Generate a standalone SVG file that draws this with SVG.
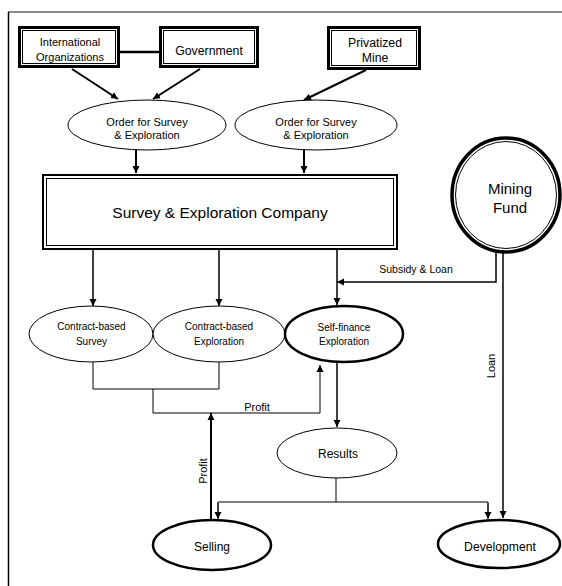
<svg xmlns="http://www.w3.org/2000/svg" width="562" height="586" viewBox="0 0 562 586">
<style>
text{font-family:"Liberation Sans",Arial,sans-serif;fill:#000;text-anchor:middle}
.ol{fill:#fff;stroke:#000;stroke-width:3}
.il{fill:none;stroke:#000;stroke-width:1}
.el{fill:#fff;stroke:#000;stroke-width:1}
.tk{fill:#fff;stroke:#000;stroke-width:2.5}
.c{fill:none;stroke:#000}
</style>
<defs>
<marker id="ah" markerWidth="8" markerHeight="8" refX="7" refY="4" orient="auto" markerUnits="userSpaceOnUse">
<path d="M0,0.5 L7,4 L0,7.5 Z" fill="#000"/>
</marker>
</defs>
<g id="frame">
<line x1="8" y1="12" x2="562" y2="12" stroke="#666" stroke-width="1.5"/>
<line x1="8.5" y1="12" x2="8.5" y2="586" stroke="#000" stroke-width="1.5"/>
</g>
<g id="connectors">
<line class="c" x1="120" y1="52" x2="159" y2="52" stroke-width="2.5"/>
<line class="c" x1="72" y1="69" x2="118" y2="99" stroke-width="2" marker-end="url(#ah)"/>
<line class="c" x1="200" y1="69" x2="153" y2="99" stroke-width="2" marker-end="url(#ah)"/>
<line class="c" x1="366" y1="70" x2="304" y2="100" stroke-width="2" marker-end="url(#ah)"/>
<line class="c" x1="136" y1="150" x2="136" y2="173" stroke-width="2" marker-end="url(#ah)"/>
<line class="c" x1="304" y1="150" x2="304" y2="173" stroke-width="2" marker-end="url(#ah)"/>
<line class="c" x1="93" y1="250" x2="93" y2="306" stroke-width="1.5" marker-end="url(#ah)"/>
<line class="c" x1="219" y1="250" x2="219" y2="306" stroke-width="1.5" marker-end="url(#ah)"/>
<line class="c" x1="337" y1="250" x2="337" y2="305" stroke-width="1.5" marker-end="url(#ah)"/>
<polyline class="c" points="496,253 496,282 337,282" stroke-width="1.5" marker-end="url(#ah)"/>
<line class="c" x1="503" y1="253" x2="503" y2="518" stroke-width="1.5" marker-end="url(#ah)"/>
<polyline class="c" points="93,362 93,389 219,389 219,362" stroke="#333" stroke-width="1"/>
<polyline class="c" points="153,389 153,413 320,413 320,365" stroke="#333" stroke-width="1" marker-end="url(#ah)"/>
<line class="c" x1="211" y1="519" x2="211" y2="413" stroke-width="2" marker-end="url(#ah)"/>
<line class="c" x1="337" y1="362" x2="337" y2="427" stroke-width="1.5" marker-end="url(#ah)"/>
<line class="c" x1="336" y1="478" x2="336" y2="502" stroke="#333" stroke-width="1"/>
<polyline class="c" points="218,518 218,502 488,502 488,518" stroke="#333" stroke-width="1"/>
<line class="c" x1="218" y1="503" x2="218" y2="519" stroke-width="1" marker-end="url(#ah)"/>
<line class="c" x1="488" y1="503" x2="488" y2="519" stroke-width="1" marker-end="url(#ah)"/>
<text x="416" y="273" font-size="10.5">Subsidy &amp; Loan</text>
<text x="257" y="411" font-size="11">Profit</text>
<text transform="translate(207,471) rotate(-90)" font-size="11">Profit</text>
<text transform="translate(495,366) rotate(-90)" font-size="11">Loan</text>
</g>
<g id="intl">
<rect class="ol" x="19.5" y="27.5" width="99" height="39"/>
<rect class="il" x="22.5" y="30.5" width="93" height="33"/>
<text x="70" y="46" font-size="11">International</text>
<text x="70" y="61" font-size="11">Organizations</text>
</g>
<g id="government">
<rect class="ol" x="160.5" y="27.5" width="97" height="39"/>
<rect class="il" x="163.5" y="30.5" width="91" height="33"/>
<text x="209" y="55" font-size="12.3">Government</text>
</g>
<g id="privatized">
<rect class="ol" x="328.5" y="27.5" width="91" height="41"/>
<rect class="il" x="331.5" y="30.5" width="85" height="35"/>
<text x="375" y="47" font-size="12.3">Privatized</text>
<text x="375" y="62" font-size="12.3">Mine</text>
</g>
<g id="order1">
<ellipse class="el" cx="147" cy="125" rx="79" ry="25"/>
<text x="147" y="126" font-size="11">Order for Survey</text>
<text x="147" y="139" font-size="11">&amp; Exploration</text>
</g>
<g id="order2">
<ellipse class="el" cx="316" cy="125" rx="81" ry="25"/>
<text x="316" y="126" font-size="11">Order for Survey</text>
<text x="316" y="139" font-size="11">&amp; Exploration</text>
</g>
<g id="company">
<rect x="43" y="175" width="354" height="74" fill="#fff" stroke="#000" stroke-width="2"/>
<rect class="il" x="46.5" y="178.5" width="347" height="67"/>
<text x="220" y="218" font-size="15.5">Survey &amp; Exploration Company</text>
</g>
<g id="fund">
<ellipse cx="506" cy="195" rx="54" ry="57" fill="#fff" stroke="#000" stroke-width="3.5"/>
<ellipse cx="506" cy="195" rx="50.5" ry="53.5" fill="none" stroke="#000" stroke-width="1"/>
<text x="510" y="194" font-size="15">Mining</text>
<text x="510" y="213" font-size="15">Fund</text>
</g>
<g id="cSurvey">
<ellipse class="el" cx="91" cy="334" rx="62" ry="28"/>
<text x="91.5" y="330" font-size="10">Contract-based</text>
<text x="91.5" y="345" font-size="10">Survey</text>
</g>
<g id="cExploration">
<ellipse class="el" cx="219" cy="334" rx="66" ry="28"/>
<text x="219" y="330" font-size="10">Contract-based</text>
<text x="219" y="345" font-size="10">Exploration</text>
</g>
<g id="selfFinance">
<ellipse class="tk" cx="344" cy="334" rx="59" ry="28"/>
<text x="344" y="331" font-size="10">Self-finance</text>
<text x="344" y="345" font-size="10">Exploration</text>
</g>
<g id="results">
<ellipse class="el" cx="337" cy="453" rx="60" ry="25"/>
<text x="338" y="458" font-size="12">Results</text>
</g>
<g id="selling">
<ellipse class="tk" cx="212" cy="545" rx="59" ry="25"/>
<text x="212" y="551" font-size="12">Selling</text>
</g>
<g id="development">
<ellipse class="tk" cx="499" cy="544" rx="61" ry="24"/>
<text x="500" y="551" font-size="12.2">Development</text>
</g>
</svg>
